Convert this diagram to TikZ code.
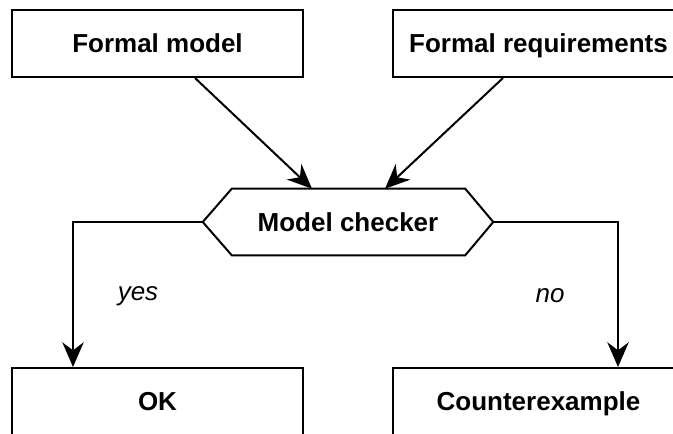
\documentclass[tikz,border=0pt]{standalone}
\usepackage{fontspec}
\setmainfont{Liberation Sans}
\usetikzlibrary{positioning,calc,arrows.meta}

\begin{document}
\begin{tikzpicture}[x=0.75pt,y=-0.75pt,
  box/.style={rectangle,draw,line width=1.5pt,minimum width=218.25pt,minimum height=50.25pt,text height=14pt,text depth=0pt,font=\fontsize{19.5}{23}\selectfont\bfseries},
  hexa/.style={rectangle,minimum width=217.5pt,minimum height=49.5pt,inner sep=0pt,text height=14pt,text depth=0pt,font=\fontsize{19.5}{23}\selectfont\bfseries},
  flow/.style={-{Stealth[length=18.5pt,width=16pt,inset=6pt]},line width=1.5pt},
  answer/.style={font=\fontsize{19.5}{23}\selectfont\itshape}]
\useasboundingbox (0,0) rectangle (673,434);
\node[box] (model) at (157.5,43.5) {Formal model};
\node[box] (reqs) at (538.5,43.5) {Formal requirements};
\node[hexa] (checker) at (348,222) {Model checker};
\draw[line width=1.5pt] (checker.west) -- ($(checker.north west)+(29,0)$) -- ($(checker.north east)+(-28,0)$)
  -- (checker.east) -- ($(checker.south east)+(-28,0)$) -- ($(checker.south west)+(29,0)$) -- cycle;
\node[box] (ok) at (157.5,401.5) {OK};
\node[box] (cex) at (538.5,401.5) {Counterexample};
% inputs into the checker
\draw[flow] ($(model.south)+(37.5,0)$) -- ($(checker.north)+(-36,0)$);
\draw[flow] ($(reqs.south)+(-35.5,0)$) -- ($(checker.north)+(37,0)$);
% verdicts
\draw[flow] (checker.west) -| ($(ok.north)+(-84.5,0)$);
\draw[flow] (checker.east) -| ($(cex.north)+(79.5,0)$);
\node[answer] (yes) at (138,296) {yes};
\node[answer] (no) at (550,296) {no};
\end{tikzpicture}
\end{document}
